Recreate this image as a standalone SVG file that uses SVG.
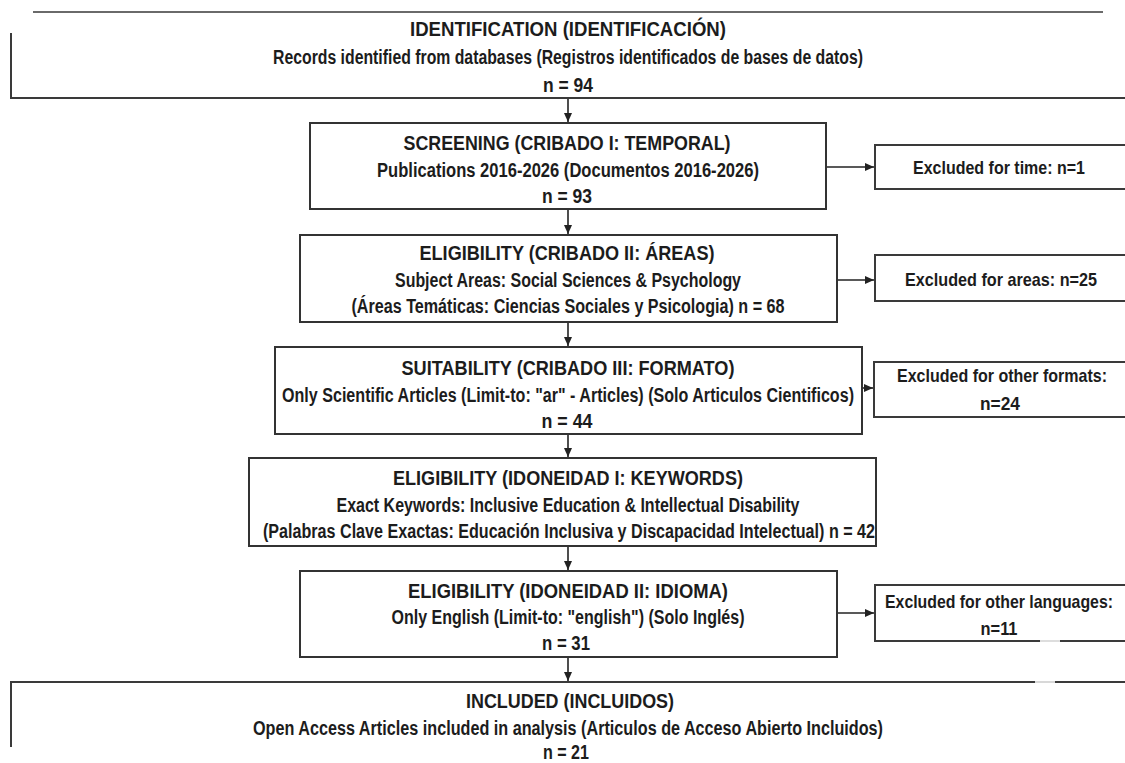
<svg xmlns="http://www.w3.org/2000/svg" width="1125" height="763" viewBox="0 0 1125 763">
<style>
  .box { fill: #ffffff; stroke: #333333; stroke-width: 2; }
  .edge { fill: none; stroke: #3a3a3a; stroke-width: 2; }
  .conn { fill: none; stroke: #222222; stroke-width: 1.6; }
  text { font-family: "Liberation Sans Narrow", "Liberation Sans", Arial, sans-serif; font-weight: bold; font-size: 20px; fill: #1c1c1c; text-anchor: middle; }
  .t { font-size: 21px; }
  .x { font-size: 19px; }
</style>
<defs>
  <marker id="ah" markerUnits="userSpaceOnUse" markerWidth="9" markerHeight="8" refX="9" refY="4" orient="auto">
    <path d="M0,0 L9,4 L0,8 z" fill="#222222"/>
  </marker>
</defs>
<rect width="1125" height="763" fill="#ffffff"/>

<g id="identification">
  <line x1="33" y1="12" x2="1103" y2="12" stroke="#6a6a6a" stroke-width="2"/>
  <polyline class="edge" points="11,33 11,98 1125,98"/>
  <text class="t" x="568" y="36" textLength="316" lengthAdjust="spacingAndGlyphs">IDENTIFICATION (IDENTIFICACIÓN)</text>
  <text x="568" y="64" textLength="590" lengthAdjust="spacingAndGlyphs">Records identified from databases (Registros identificados de bases de datos)</text>
  <text x="568" y="92" textLength="50" lengthAdjust="spacingAndGlyphs">n = 94</text>
</g>

<g id="screening">
  <rect class="box" x="310" y="123" width="516" height="86"/>
  <text class="t" x="567" y="150" textLength="327" lengthAdjust="spacingAndGlyphs">SCREENING (CRIBADO I: TEMPORAL)</text>
  <text x="568" y="177" textLength="382" lengthAdjust="spacingAndGlyphs">Publications 2016-2026 (Documentos 2016-2026)</text>
  <text x="567" y="203" textLength="50" lengthAdjust="spacingAndGlyphs">n = 93</text>
</g>

<g id="excluded-time">
  <path class="edge" d="M1125,145 H875 V189 H1125"/>
  <text class="x" x="999" y="174" textLength="172" lengthAdjust="spacingAndGlyphs">Excluded for time: n=1</text>
</g>

<g id="eligibility-areas">
  <rect class="box" x="300" y="235" width="537" height="87"/>
  <text class="t" x="567" y="260" textLength="295" lengthAdjust="spacingAndGlyphs">ELIGIBILITY (CRIBADO II: ÁREAS)</text>
  <text x="568" y="287" textLength="346" lengthAdjust="spacingAndGlyphs">Subject Areas: Social Sciences &amp; Psychology</text>
  <text x="568" y="313" textLength="433" lengthAdjust="spacingAndGlyphs">(Áreas Temáticas: Ciencias Sociales y Psicologia) n = 68</text>
</g>

<g id="excluded-areas">
  <path class="edge" d="M1125,255 H875 V301 H1125"/>
  <text class="x" x="1001" y="286" textLength="192" lengthAdjust="spacingAndGlyphs">Excluded for areas: n=25</text>
</g>

<g id="suitability">
  <rect class="box" x="275" y="347" width="587" height="87"/>
  <text class="t" x="568" y="375" textLength="333" lengthAdjust="spacingAndGlyphs">SUITABILITY (CRIBADO III: FORMATO)</text>
  <text x="568" y="402" textLength="572" lengthAdjust="spacingAndGlyphs">Only Scientific Articles (Limit-to: "ar" - Articles) (Solo Articulos Cientificos)</text>
  <text x="567" y="428" textLength="51" lengthAdjust="spacingAndGlyphs">n = 44</text>
</g>

<g id="excluded-formats">
  <path class="edge" d="M1125,362 H874 V417 H1125"/>
  <text class="x" x="1002" y="382" textLength="210" lengthAdjust="spacingAndGlyphs">Excluded for other formats:</text>
  <text class="x" x="1000" y="410" textLength="40" lengthAdjust="spacingAndGlyphs">n=24</text>
</g>

<g id="eligibility-keywords">
  <rect class="box" x="249" y="458" width="627" height="88"/>
  <text class="t" x="568" y="485" textLength="350" lengthAdjust="spacingAndGlyphs">ELIGIBILITY (IDONEIDAD I: KEYWORDS)</text>
  <text x="568" y="512" textLength="463" lengthAdjust="spacingAndGlyphs">Exact Keywords: Inclusive Education &amp; Intellectual Disability</text>
  <text x="569" y="538" textLength="612" lengthAdjust="spacingAndGlyphs">(Palabras Clave Exactas: Educación Inclusiva y Discapacidad Intelectual) n = 42</text>
</g>

<g id="eligibility-language">
  <rect class="box" x="300" y="571" width="537" height="86"/>
  <text class="t" x="568" y="598" textLength="320" lengthAdjust="spacingAndGlyphs">ELIGIBILITY (IDONEIDAD II: IDIOMA)</text>
  <text x="568" y="624" textLength="353" lengthAdjust="spacingAndGlyphs">Only English (Limit-to: "english") (Solo Inglés)</text>
  <text x="566" y="650" textLength="48" lengthAdjust="spacingAndGlyphs">n = 31</text>
</g>

<g id="excluded-languages">
  <path class="edge" d="M1125,585 H875 V641 H1040"/>
  <line x1="1040" y1="641" x2="1060" y2="641" stroke="#dddddd" stroke-width="2"/>
  <line x1="1060" y1="641" x2="1125" y2="641" stroke="#3a3a3a" stroke-width="2"/>
  <text class="x" x="999" y="608" textLength="228" lengthAdjust="spacingAndGlyphs">Excluded for other languages:</text>
  <text class="x" x="999" y="635" textLength="37" lengthAdjust="spacingAndGlyphs">n=11</text>
</g>

<g id="included">
  <polyline class="edge" points="11,747 11,682 1035,682"/>
  <line x1="1035" y1="682" x2="1055" y2="682" stroke="#d8d8d8" stroke-width="2"/>
  <line x1="1055" y1="682" x2="1125" y2="682" stroke="#3a3a3a" stroke-width="2"/>
  <text class="t" x="570" y="708" textLength="208" lengthAdjust="spacingAndGlyphs">INCLUDED (INCLUIDOS)</text>
  <text x="568" y="735" textLength="630" lengthAdjust="spacingAndGlyphs">Open Access Articles included in analysis (Articulos de Acceso Abierto Incluidos)</text>
  <text x="566" y="759" textLength="46" lengthAdjust="spacingAndGlyphs">n = 21</text>
</g>

<g id="connectors">
  <line class="conn" x1="568" y1="99" x2="568" y2="122" marker-end="url(#ah)"/>
  <line class="conn" x1="568" y1="210" x2="568" y2="234" marker-end="url(#ah)"/>
  <line class="conn" x1="568" y1="323" x2="568" y2="346" marker-end="url(#ah)"/>
  <line class="conn" x1="568" y1="435" x2="568" y2="457" marker-end="url(#ah)"/>
  <line class="conn" x1="568" y1="547" x2="568" y2="570" marker-end="url(#ah)"/>
  <line class="conn" x1="568" y1="658" x2="568" y2="681" marker-end="url(#ah)"/>
  <line class="conn" x1="827" y1="167" x2="874" y2="167" marker-end="url(#ah)"/>
  <line class="conn" x1="838" y1="280" x2="874" y2="280" marker-end="url(#ah)"/>
  <line class="conn" x1="863" y1="388" x2="873" y2="388" marker-end="url(#ah)"/>
  <line class="conn" x1="838" y1="613" x2="874" y2="613" marker-end="url(#ah)"/>
</g>
</svg>
